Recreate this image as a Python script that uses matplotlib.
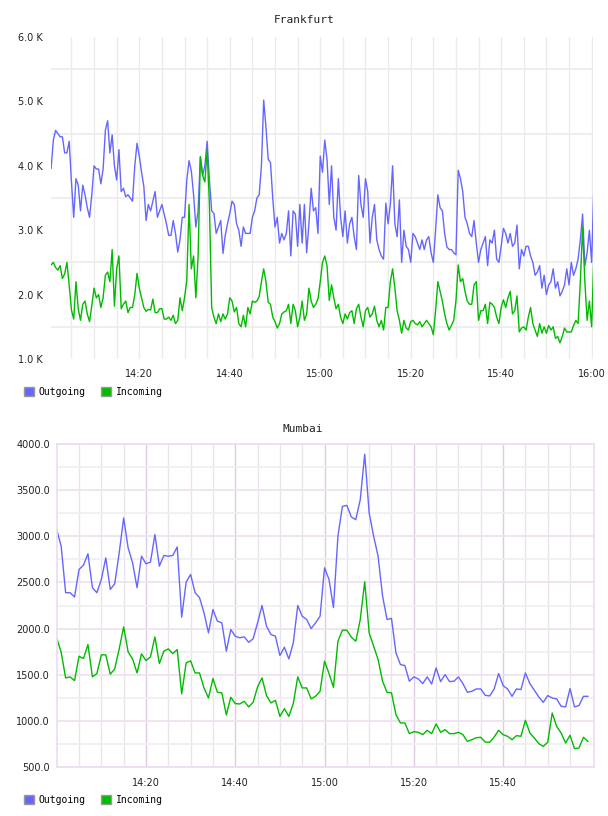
import numpy as np
import matplotlib
matplotlib.use("Agg")
from matplotlib import pyplot as plt
from matplotlib.patches import Patch
from matplotlib.ticker import FuncFormatter

# Frankfurt traffic (K), one sample every 30 s starting 14:00:30
fra_out = [
    3.96, 4.4, 4.55, 4.5, 4.45, 4.45, 4.2, 4.2, 4.38, 3.75,
    3.2, 3.8, 3.7, 3.3, 3.7, 3.55, 3.35, 3.2, 3.55, 4.0,
    3.95, 3.95, 3.72, 3.95, 4.55, 4.7, 4.2, 4.48, 4.0, 3.78,
    4.25, 3.6, 3.65, 3.52, 3.55, 3.5, 3.45, 4.0, 4.35, 4.15,
    3.9, 3.68, 3.15, 3.4, 3.3, 3.45, 3.6, 3.2, 3.3, 3.4,
    3.25, 3.1, 2.92, 2.92, 3.15, 2.95, 2.66, 2.85, 3.2, 3.2,
    3.78, 4.08, 3.92, 3.55, 3.05, 3.3, 4.14, 3.85, 4.0, 4.38,
    3.78, 3.3, 3.26, 2.95, 3.05, 3.15, 2.64, 2.92, 3.1, 3.26,
    3.45, 3.4, 3.1, 3.0, 2.75, 3.05, 2.95, 2.95, 2.95, 3.2,
    3.3, 3.5, 3.55, 4.0, 5.02, 4.6, 4.1, 4.05, 3.5, 3.05,
    3.2, 2.8, 2.95, 2.85, 2.95, 3.3, 2.6, 3.3, 3.25, 2.75,
    3.4, 2.8, 3.4, 2.65, 3.1, 3.65, 3.3, 3.35, 2.95, 4.15,
    3.9, 4.4, 4.1, 3.4, 4.0, 3.2, 3.0, 3.8, 3.2, 2.9,
    3.3, 2.8, 3.1, 3.2, 2.9, 2.7, 3.85, 3.4, 3.2, 3.8,
    3.6, 2.8, 3.2, 3.4, 2.85, 2.7, 2.6, 2.55, 3.42, 3.1,
    3.4, 4.0, 3.1, 2.9, 3.47, 2.5, 3.0, 2.75, 2.7, 2.5,
    2.95, 2.9, 2.8, 2.7, 2.85, 2.7, 2.85, 2.9, 2.65, 2.5,
    3.0, 3.55, 3.35, 3.3, 2.95, 2.74, 2.7, 2.7, 2.65, 2.62,
    3.93, 3.8, 3.6, 3.2, 3.1, 2.95, 2.9, 3.15, 2.8, 2.5,
    2.7, 2.8, 2.9, 2.45, 2.85, 2.8, 3.0, 2.55, 2.5, 2.75,
    3.03, 2.95, 2.8, 2.95, 2.75, 2.8, 3.08, 2.4, 2.7, 2.6,
    2.75, 2.75, 2.6, 2.5, 2.3, 2.35, 2.45, 2.1, 2.3, 2.0,
    2.15, 2.2, 2.4, 2.1, 2.2, 1.98, 2.05, 2.15, 2.4, 2.15,
    2.5, 2.3, 2.4, 2.55, 2.85, 3.25, 2.45, 2.65, 3.0, 2.5, 3.7,
]
fra_in = [
    2.46, 2.5, 2.42, 2.38, 2.45, 2.25, 2.32, 2.5, 2.15, 1.76,
    1.62, 2.2, 1.78, 1.6, 1.85, 1.9, 1.7, 1.58, 1.83, 2.1,
    1.95, 2.0, 1.8, 1.95, 2.3, 2.35, 2.2, 2.7, 1.82, 2.4,
    2.6, 1.78, 1.85, 1.9, 1.72, 1.8, 1.8, 2.0, 2.33, 2.1,
    1.95, 1.8, 1.74, 1.77, 1.76, 1.93, 1.72, 1.72, 1.78, 1.78,
    1.62, 1.62, 1.65, 1.6, 1.68, 1.55, 1.6, 1.95, 1.75, 1.95,
    2.22, 3.4, 2.4, 2.6, 1.95, 2.6, 4.14, 3.85, 3.75, 4.25,
    3.4, 1.8, 1.65, 1.55, 1.7, 1.58, 1.7, 1.62, 1.7, 1.95,
    1.9, 1.73, 1.8, 1.55, 1.5, 1.68, 1.5, 1.8, 1.7, 1.9,
    1.88, 1.9, 1.97, 2.2, 2.4, 2.2, 1.88, 1.85, 1.65, 1.58,
    1.48, 1.55, 1.7, 1.73, 1.75, 1.85, 1.55, 1.85, 1.75, 1.5,
    1.65, 1.9, 1.6, 1.7, 2.1, 1.9, 1.8, 1.85, 1.93, 2.2,
    2.5, 2.6, 2.45, 1.91, 2.15, 1.95, 1.78, 1.85, 1.65, 1.55,
    1.7, 1.62, 1.72, 1.75, 1.55, 1.78, 1.85, 1.65, 1.5, 1.75,
    1.8, 1.65, 1.7, 1.82, 1.6, 1.5, 1.6, 1.45, 1.8, 1.8,
    2.2, 2.4, 2.1, 1.75, 1.6, 1.4, 1.6, 1.48, 1.45, 1.58,
    1.6, 1.55, 1.53, 1.58, 1.5, 1.55, 1.6, 1.55, 1.5, 1.38,
    1.75, 2.2, 2.05, 1.9, 1.7, 1.55, 1.45, 1.52, 1.6, 1.9,
    2.46, 2.2, 2.25, 2.05, 1.9, 1.85, 1.85, 2.15, 2.2, 1.6,
    1.75, 1.75, 1.85, 1.55, 1.88, 1.85, 1.8, 1.65, 1.55, 1.8,
    1.92, 1.8, 1.95, 2.05, 1.7, 1.75, 1.98, 1.42, 1.48, 1.5,
    1.45, 1.65, 1.8, 1.55, 1.45, 1.35, 1.55, 1.4, 1.5, 1.4,
    1.52, 1.45, 1.5, 1.32, 1.35, 1.25, 1.35, 1.48, 1.42, 1.42,
    1.42, 1.52, 1.6, 1.55, 2.2, 3.05, 2.2, 1.6, 1.9, 1.5, 2.6,
]

# Mumbai traffic, one sample per minute starting 14:00
mum_out = [
    3074, 2894, 2389, 2389, 2342, 2641, 2688, 2811, 2443, 2389,
    2533, 2767, 2425, 2486, 2822, 3200, 2876, 2713, 2443, 2785,
    2703, 2720, 3020, 2677, 2793, 2785, 2793, 2886, 2123, 2504,
    2587, 2389, 2335, 2170, 1953, 2206, 2080, 2062, 1754, 1989,
    1917, 1899, 1910, 1851, 1888, 2062, 2250, 2025, 1935, 1917,
    1707, 1797, 1670, 1844, 2250, 2134, 2098, 2000, 2062, 2134,
    2659, 2533, 2227, 3002, 3326, 3337, 3211, 3182, 3398, 3892,
    3254, 3002, 2785, 2353, 2098, 2110, 1736, 1609, 1598, 1428,
    1475, 1453, 1402, 1475, 1398, 1572, 1424, 1500, 1424, 1428,
    1475, 1402, 1308, 1319, 1344, 1344, 1275, 1268, 1344, 1511,
    1380, 1344, 1264, 1344, 1337, 1518, 1402, 1330, 1257, 1199,
    1272, 1246, 1236, 1156, 1149, 1348, 1149, 1163, 1264, 1264,
]
mum_in = [
    1899, 1743, 1464, 1475, 1435, 1699, 1674, 1826, 1475, 1511,
    1714, 1714, 1504, 1562, 1779, 2018, 1746, 1670, 1518, 1725,
    1652, 1692, 1909, 1620, 1754, 1779, 1728, 1772, 1290, 1627,
    1649, 1518, 1518, 1355, 1246, 1457, 1308, 1301, 1062, 1254,
    1185, 1181, 1210, 1149, 1199, 1366, 1464, 1272, 1192, 1221,
    1047, 1130, 1047, 1185, 1475, 1355, 1355, 1236, 1265, 1319,
    1645, 1511, 1362, 1862, 1982, 1982, 1906, 1862, 2098, 2508,
    1953, 1808, 1663, 1428, 1308, 1301, 1065, 975, 975, 859,
    881, 873, 848, 895, 859, 964, 873, 902, 859, 859,
    873, 848, 775, 793, 815, 819, 768, 765, 822, 895,
    848, 830, 793, 837, 830, 1004, 866, 812, 750, 721,
    765, 1083, 938, 866, 757, 841, 696, 703, 819, 775,
]

OUT_COLOR = "#6666ff"
IN_COLOR = "#00bb00"
W, H = 608, 816

fra_t = 0.5 + 0.5 * np.arange(len(fra_out))   # minutes after 14:00
mum_t = np.arange(len(mum_out), dtype=float)


def hhmm(v, pos=None):
    m = int(round(v))
    return f"{14 + m // 60}:{m % 60:02d}"


def add_legend(fig, y):
    handles = [Patch(facecolor=OUT_COLOR, edgecolor="#999999", label="Outgoing"),
               Patch(facecolor=IN_COLOR, edgecolor="#999999", label="Incoming")]
    fig.legend(handles=handles, loc="center left", bbox_to_anchor=(24 / W, 1 - y / H),
               ncol=2, frameon=False, borderpad=0, borderaxespad=0,
               handlelength=1.05, handleheight=1.05, handletextpad=0.45,
               columnspacing=1.6, prop={"family": "DejaVu Sans Mono", "size": 7})


fig = plt.figure(figsize=(W / 100, H / 100), dpi=100)

# ---- Frankfurt ----
ax1 = fig.add_axes([51 / W, 1 - 359 / H, 542 / W, 322 / H])
ax1.plot(fra_t, fra_out, color=OUT_COLOR, lw=1.0)
ax1.plot(fra_t, fra_in, color=IN_COLOR, lw=1.0)
ax1.set_xlim(0.48, 120.3)
ax1.set_ylim(1.0, 6.0)
ax1.set_yticks(np.arange(1, 7))
ax1.set_yticks(np.arange(1.5, 6.0, 1.0), minor=True)
ax1.yaxis.set_major_formatter(FuncFormatter(lambda v, p: f"{v:.1f} K"))
ax1.set_xticks(np.arange(20, 121, 20))
ax1.set_xticks(np.arange(5, 121, 5), minor=True)
ax1.xaxis.set_major_formatter(FuncFormatter(hhmm))
ax1.set_axisbelow(True)
ax1.grid(which="minor", axis="y", color="#ebebeb", lw=1.2)
ax1.grid(which="both", axis="x", color="#ebebeb", lw=1.0)
for s in ax1.spines.values():
    s.set_visible(False)
ax1.tick_params(which="both", length=0, labelsize=7, colors="#222222")
ax1.tick_params(axis="y", pad=6)
ax1.tick_params(axis="x", pad=7)
fig.text(304 / W, 1 - 20 / H, "Frankfurt", ha="center", va="center",
         family="DejaVu Sans Mono", fontsize=8, color="#222222")
add_legend(fig, 392)

# ---- Mumbai ----
ax2 = fig.add_axes([56.7 / W, 1 - 766.7 / H, 537 / W, 322.4 / H])
ax2.plot(mum_t, mum_out, color=OUT_COLOR, lw=1.0)
ax2.plot(mum_t, mum_in, color=IN_COLOR, lw=1.0)
ax2.set_xlim(0, 120.3)
ax2.set_ylim(500, 4000)
ax2.set_yticks(np.arange(500, 4001, 500))
ax2.set_yticks(np.arange(750, 4000, 500), minor=True)
ax2.yaxis.set_major_formatter(FuncFormatter(lambda v, p: f"{v:.1f}"))
ax2.set_xticks(np.arange(20, 101, 20))
ax2.set_xticks([m for m in range(5, 120, 5) if m % 20], minor=True)
ax2.xaxis.set_major_formatter(FuncFormatter(hhmm))
ax2.set_axisbelow(True)
ax2.grid(which="major", axis="y", color="#f0e2f0", lw=1.3)
ax2.grid(which="minor", axis="y", color="#f0f0f0", lw=1.3)
ax2.grid(which="major", axis="x", color="#dccbe2", lw=1.0)
ax2.grid(which="minor", axis="x", color="#ebe3eb", lw=1.0)
for s in ax2.spines.values():
    s.set_color("#eadcf0")
    s.set_linewidth(1.2)
ax2.tick_params(which="both", length=0, labelsize=7, colors="#222222")
ax2.tick_params(axis="y", pad=5)
ax2.tick_params(axis="x", pad=8)
fig.text(303 / W, 1 - 429 / H, "Mumbai", ha="center", va="center",
         family="DejaVu Sans Mono", fontsize=8, color="#222222")
add_legend(fig, 800)

fig.savefig("out.png", dpi=100)
